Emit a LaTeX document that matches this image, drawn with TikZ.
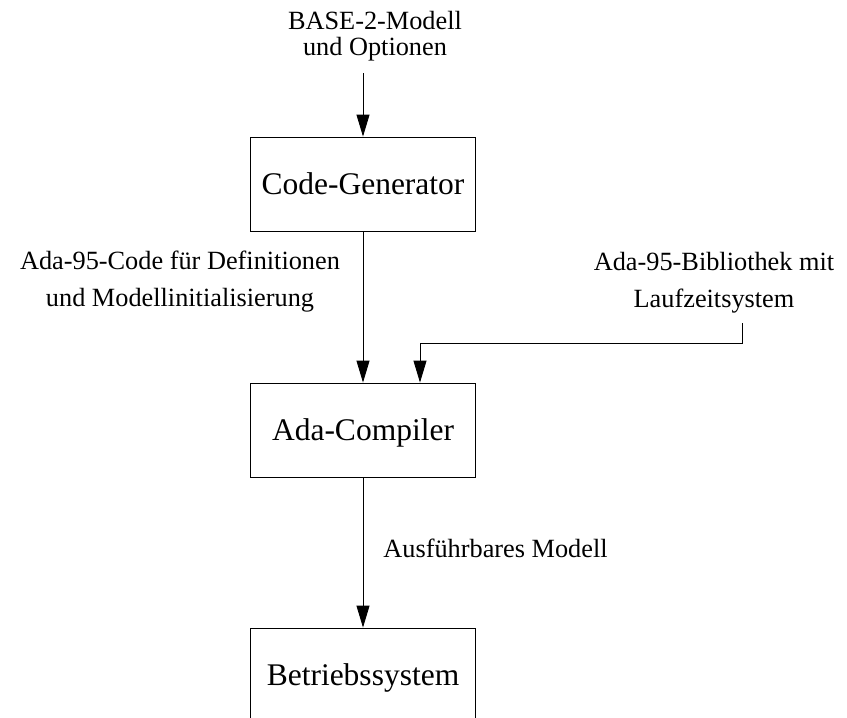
\documentclass[tikz,border=0pt]{standalone}
\usepackage{fontspec}
\setmainfont{Liberation Serif}
\usetikzlibrary{arrows.meta}
\usetikzlibrary{positioning}

\begin{document}
\begin{tikzpicture}[x=1pt, y=-1pt, line width=0.9pt,
    kasten/.style={draw, minimum width=225pt, minimum height=94pt, text depth=0pt,
        font=\fontsize{31.5}{38}\selectfont},
    pfeil/.style={-{Triangle[length=22pt,width=13pt]}},
    etikett/.style={align=center, inner sep=0pt, font=\fontsize{26.3}{37}\selectfont}]
    \useasboundingbox (0,0) rectangle (847,718);
    \clip (0,0) rectangle (847,718);
    % Kaesten
    \node[kasten] (gen) at (363,184) {Code-Generator};
    \node[kasten] (comp) at (363,430) {Ada-Compiler};
    \node[kasten] (os) at (363,675) {Betriebssystem};
    % Beschriftungen
    \node[etikett, font=\fontsize{26.3}{26}\selectfont] (modell) at (375,36) {BASE-2-Modell\\und Optionen};
    \node[etikett] (code) at (180,282) {Ada-95-Code für Definitionen\\und Modellinitialisierung};
    \node[etikett] (bib) at (714,283) {Ada-95-Bibliothek mit\\Laufzeitsystem};
    \node[etikett, anchor=base west] (exe) at (383,557) {Ausführbares Modell};
    % Pfeile
    \coordinate (ein) at (363,73);
    \coordinate (bibaus) at (742,323);
    \draw[pfeil] (ein) -- (gen);
    \draw[pfeil] (gen) -- (comp);
    \draw[pfeil] (bibaus) -- ++(0,20) -| ([xshift=57pt]comp.north);
    \draw[pfeil] (comp) -- (os);
\end{tikzpicture}
\end{document}
